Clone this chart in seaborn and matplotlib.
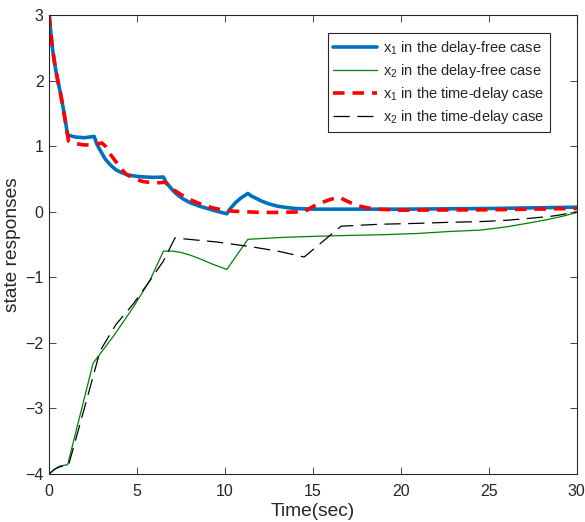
import numpy as np
import pandas as pd
import matplotlib
matplotlib.use("Agg")
import matplotlib.pyplot as plt
import seaborn as sns

# ---- data ----
t_x1_free = [0, 0.1, 0.2, 0.35, 0.5, 0.65, 0.8, 0.95, 1.05, 1.5, 2.0, 2.56, 2.7, 2.9, 3.2, 3.5,
             3.8, 4.1, 4.5, 5.0, 5.5, 6.0, 6.5, 6.6, 6.8, 7.05, 7.3, 7.6, 8.0, 8.5, 9.0, 9.5,
             10.1, 10.3, 10.6, 10.9, 11.3, 11.5, 11.8, 12.1, 12.5, 13.0, 13.5, 14.0, 15, 17,
             20, 25, 30]
y_x1_free = [3.0, 2.72, 2.47, 2.2, 1.99, 1.8, 1.58, 1.34, 1.17, 1.14, 1.13, 1.15, 1.04, 0.94, 0.8,
             0.71, 0.64, 0.6, 0.56, 0.54, 0.53, 0.525, 0.53, 0.47, 0.4, 0.32, 0.26, 0.2, 0.14,
             0.09, 0.05, 0.01, -0.03, 0.05, 0.14, 0.21, 0.28, 0.24, 0.2, 0.16, 0.12, 0.085,
             0.065, 0.05, 0.04, 0.04, 0.04, 0.05, 0.07]

t_x2_free = [0, 0.3, 0.6, 1.0, 1.05, 2.5, 3.65, 4.8, 5.74, 6.5, 7.0, 7.5, 8.0, 8.6, 9.3, 10.1,
             11.3, 13.3, 15, 17.1, 19, 21, 22.8, 24.5, 26, 27.3, 28.3, 29, 29.6, 30]
y_x2_free = [-4.0, -3.93, -3.88, -3.86, -3.86, -2.31, -1.9, -1.45, -1.04, -0.6, -0.6, -0.62, -0.66,
             -0.72, -0.8, -0.88, -0.42, -0.39, -0.375, -0.36, -0.35, -0.33, -0.3, -0.28, -0.23,
             -0.17, -0.12, -0.08, -0.04, -0.01]

t_x1_delay = [0, 0.1, 0.2, 0.35, 0.5, 0.65, 0.8, 0.95, 1.1, 1.5, 2.0, 2.5, 3.0, 3.2, 3.5, 3.86,
              4.1, 4.4, 4.9, 5.35, 6.0, 6.6, 6.8, 7.0, 7.45, 7.9, 8.4, 8.9, 9.3, 9.8, 10.4, 12,
              13, 14.5, 15.0, 15.6, 16.0, 16.5, 16.8, 17.2, 17.6, 18.1, 18.6, 20, 25, 30]
y_x1_delay = [3.0, 2.72, 2.47, 2.2, 1.99, 1.8, 1.58, 1.33, 1.08, 1.04, 1.02, 1.02, 1.05, 1.0, 0.87,
              0.74, 0.65, 0.57, 0.5, 0.46, 0.44, 0.45, 0.4, 0.35, 0.27, 0.2, 0.14, 0.09, 0.06,
              0.03, 0.01, -0.01, -0.01, 0.0, 0.08, 0.15, 0.19, 0.22, 0.18, 0.13, 0.09, 0.06,
              0.04, 0.025, 0.03, 0.05]

t_x2_delay = [0, 0.3, 0.6, 1.1, 2.0, 2.9, 3.8, 4.8, 5.6, 6.5, 7.15, 9.5, 11.4, 13.0, 14.5, 16.6,
              18.8, 20.5, 22.8, 24.5, 26, 27.3, 28.5, 29, 29.6, 30]
y_x2_delay = [-4.0, -3.93, -3.89, -3.87, -3.0, -2.12, -1.72, -1.4, -1.1, -0.75, -0.4, -0.46, -0.53,
              -0.6, -0.69, -0.22, -0.19, -0.18, -0.16, -0.15, -0.13, -0.1, -0.07, -0.05, -0.02, 0.0]

labels = [r"x$_1$ in the delay-free case", r"x$_2$ in the delay-free case",
          r"x$_1$ in the time-delay case", r"x$_2$ in the time-delay case"]

xticks = [0, 5, 10, 15, 20, 25, 30]
yticks = [-4, -3, -2, -1, 0, 1, 2, 3]

# ---- style ----
sns.set_style("ticks")
plt.rcParams['font.family'] = ['Liberation Sans', 'DejaVu Sans']
plt.rcParams['mathtext.fontset'] = 'custom'
plt.rcParams['mathtext.rm'] = 'Liberation Sans'
plt.rcParams['mathtext.it'] = 'Liberation Sans'

fig = plt.figure(figsize=(5.85, 5.22), dpi=100)
ax = fig.add_axes([0.084, 0.092, 0.902, 0.879])

series = [
    (t_x1_free, y_x1_free, labels[0], "#0072BD", 2.6, None),
    (t_x2_free, y_x2_free, labels[1], "#008000", 0.9, None),
    (t_x1_delay, y_x1_delay, labels[2], "#FF0000", 2.6, (3.2, 2.2)),
    (t_x2_delay, y_x2_delay, labels[3], "#000000", 0.9, (13, 6)),
]
for t, y, lab, col, lw, dash in series:
    df = pd.DataFrame({"t": t, "y": y})
    sns.lineplot(data=df, x="t", y="y", ax=ax, color=col, linewidth=lw, label=lab, sort=False)
    if dash is not None:
        ax.lines[-1].set_dashes(dash)

ax.set_xlim(0, 30)
ax.set_ylim(-4, 3)
ax.set_xticks(xticks)
ax.set_yticks(yticks)
ax.tick_params(direction="in", top=True, right=True, labelsize=11.5, length=5,
               width=0.6, colors="#262626")
ax.tick_params(axis="x", pad=7)
ax.tick_params(axis="y", pad=4)
for s in ax.spines.values():
    s.set_linewidth(0.8)
    s.set_color("#262626")
ax.set_xlabel("Time(sec)", fontsize=13.8, labelpad=3)
ax.set_ylabel("state responses", fontsize=13.8, labelpad=3)

leg = ax.legend(loc="upper right", bbox_to_anchor=(0.963, 0.977), fontsize=10.5,
                handlelength=3.0, handletextpad=0.4, borderpad=0.4, labelspacing=0.35,
                frameon=True, fancybox=False, edgecolor="#262626", framealpha=1)
leg.get_frame().set_linewidth(0.8)

fig.savefig("out.png", dpi=100)
